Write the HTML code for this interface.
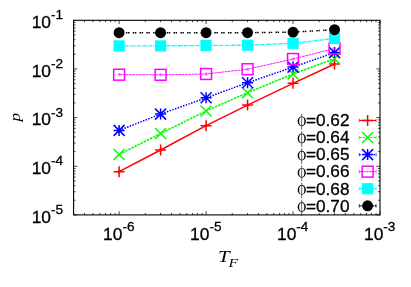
<!DOCTYPE html>
<html><head><meta charset="utf-8"><title>plot</title>
<style>html,body{margin:0;padding:0;background:#fff}body{width:411px;height:287px;overflow:hidden}svg text{font-family:"Liberation Sans",sans-serif;fill:#000;stroke:#000;stroke-width:0.3px}svg text.ser{font-family:"Liberation Serif",serif;font-style:italic;stroke:none}</style>
</head><body>
<svg width="411" height="287" viewBox="0 0 411 287" style="display:block;will-change:transform">
<rect width="411" height="287" fill="#fff"/>
<path d="M73.63 214.9v-1.9M73.63 20.3v1.9M84.49 214.9v-1.9M84.49 20.3v1.9M92.92 214.9v-1.9M92.92 20.3v1.9M99.81 214.9v-1.9M99.81 20.3v1.9M105.63 214.9v-1.9M105.63 20.3v1.9M110.67 214.9v-1.9M110.67 20.3v1.9M115.12 214.9v-1.9M115.12 20.3v1.9M119.10 214.9v-3.6M119.10 20.3v3.6M145.28 214.9v-1.9M145.28 20.3v1.9M160.59 214.9v-1.9M160.59 20.3v1.9M171.46 214.9v-1.9M171.46 20.3v1.9M179.89 214.9v-1.9M179.89 20.3v1.9M186.77 214.9v-1.9M186.77 20.3v1.9M192.60 214.9v-1.9M192.60 20.3v1.9M197.64 214.9v-1.9M197.64 20.3v1.9M202.09 214.9v-1.9M202.09 20.3v1.9M206.07 214.9v-3.6M206.07 20.3v3.6M232.25 214.9v-1.9M232.25 20.3v1.9M247.56 214.9v-1.9M247.56 20.3v1.9M258.43 214.9v-1.9M258.43 20.3v1.9M266.85 214.9v-1.9M266.85 20.3v1.9M273.74 214.9v-1.9M273.74 20.3v1.9M279.56 214.9v-1.9M279.56 20.3v1.9M284.61 214.9v-1.9M284.61 20.3v1.9M289.05 214.9v-1.9M289.05 20.3v1.9M293.03 214.9v-3.6M293.03 20.3v3.6M319.21 214.9v-1.9M319.21 20.3v1.9M334.53 214.9v-1.9M334.53 20.3v1.9M345.39 214.9v-1.9M345.39 20.3v1.9M353.82 214.9v-1.9M353.82 20.3v1.9M360.71 214.9v-1.9M360.71 20.3v1.9M366.53 214.9v-1.9M366.53 20.3v1.9M371.57 214.9v-1.9M371.57 20.3v1.9M376.02 214.9v-1.9M376.02 20.3v1.9M380.00 214.9v-3.6M380.00 20.3v3.6M73.6 214.90h3.6M380.0 214.90h-3.6M73.6 200.25h1.9M380.0 200.25h-1.9M73.6 191.69h1.9M380.0 191.69h-1.9M73.6 185.61h1.9M380.0 185.61h-1.9M73.6 180.90h1.9M380.0 180.90h-1.9M73.6 177.04h1.9M380.0 177.04h-1.9M73.6 173.79h1.9M380.0 173.79h-1.9M73.6 170.96h1.9M380.0 170.96h-1.9M73.6 168.48h1.9M380.0 168.48h-1.9M73.6 166.25h3.6M380.0 166.25h-3.6M73.6 151.60h1.9M380.0 151.60h-1.9M73.6 143.04h1.9M380.0 143.04h-1.9M73.6 136.96h1.9M380.0 136.96h-1.9M73.6 132.25h1.9M380.0 132.25h-1.9M73.6 128.39h1.9M380.0 128.39h-1.9M73.6 125.14h1.9M380.0 125.14h-1.9M73.6 122.31h1.9M380.0 122.31h-1.9M73.6 119.83h1.9M380.0 119.83h-1.9M73.6 117.60h3.6M380.0 117.60h-3.6M73.6 102.95h1.9M380.0 102.95h-1.9M73.6 94.39h1.9M380.0 94.39h-1.9M73.6 88.31h1.9M380.0 88.31h-1.9M73.6 83.60h1.9M380.0 83.60h-1.9M73.6 79.74h1.9M380.0 79.74h-1.9M73.6 76.49h1.9M380.0 76.49h-1.9M73.6 73.66h1.9M380.0 73.66h-1.9M73.6 71.18h1.9M380.0 71.18h-1.9M73.6 68.95h3.6M380.0 68.95h-3.6M73.6 54.30h1.9M380.0 54.30h-1.9M73.6 45.74h1.9M380.0 45.74h-1.9M73.6 39.66h1.9M380.0 39.66h-1.9M73.6 34.95h1.9M380.0 34.95h-1.9M73.6 31.09h1.9M380.0 31.09h-1.9M73.6 27.84h1.9M380.0 27.84h-1.9M73.6 25.01h1.9M380.0 25.01h-1.9M73.6 22.53h1.9M380.0 22.53h-1.9" stroke="#000" stroke-width="0.75" fill="none"/>
<path d="M119.10 171.70L160.59 150.00L206.07 125.70L247.56 105.10L293.03 83.30L334.53 64.00" stroke="#ff0000" stroke-width="1.45" fill="none"/>
<path d="M117.80 170.50h2.6M117.80 172.90h2.6M119.10 170.50v2.4M117.50 171.70h3.2" stroke="#ff0000" stroke-width="0.7" fill="none" opacity="0.75"/>
<path d="M113.60 171.70H124.60M119.10 166.20V177.20" stroke="#ff0000" stroke-width="1.5" fill="none"/>
<path d="M159.29 148.80h2.6M159.29 151.20h2.6M160.59 148.80v2.4M158.99 150.00h3.2" stroke="#ff0000" stroke-width="0.7" fill="none" opacity="0.75"/>
<path d="M155.09 150.00H166.09M160.59 144.50V155.50" stroke="#ff0000" stroke-width="1.5" fill="none"/>
<path d="M204.77 124.50h2.6M204.77 126.90h2.6M206.07 124.50v2.4M204.47 125.70h3.2" stroke="#ff0000" stroke-width="0.7" fill="none" opacity="0.75"/>
<path d="M200.57 125.70H211.57M206.07 120.20V131.20" stroke="#ff0000" stroke-width="1.5" fill="none"/>
<path d="M246.26 103.90h2.6M246.26 106.30h2.6M247.56 103.90v2.4M245.96 105.10h3.2" stroke="#ff0000" stroke-width="0.7" fill="none" opacity="0.75"/>
<path d="M242.06 105.10H253.06M247.56 99.60V110.60" stroke="#ff0000" stroke-width="1.5" fill="none"/>
<path d="M291.73 82.10h2.6M291.73 84.50h2.6M293.03 82.10v2.4M291.43 83.30h3.2" stroke="#ff0000" stroke-width="0.7" fill="none" opacity="0.75"/>
<path d="M287.53 83.30H298.53M293.03 77.80V88.80" stroke="#ff0000" stroke-width="1.5" fill="none"/>
<path d="M333.23 62.80h2.6M333.23 65.20h2.6M334.53 62.80v2.4M332.93 64.00h3.2" stroke="#ff0000" stroke-width="0.7" fill="none" opacity="0.75"/>
<path d="M329.03 64.00H340.03M334.53 58.50V69.50" stroke="#ff0000" stroke-width="1.5" fill="none"/>
<path d="M119.10 154.50L160.59 133.50L206.07 111.00L247.56 92.70L293.03 74.00L334.53 58.70" stroke="#00ff00" stroke-width="1.6" fill="none" stroke-dasharray="2.5 0.95"/>
<path d="M113.60 149.00L124.60 160.00M113.60 160.00L124.60 149.00" stroke="#00ff00" stroke-width="1.5" fill="none"/>
<path d="M155.09 128.00L166.09 139.00M155.09 139.00L166.09 128.00" stroke="#00ff00" stroke-width="1.5" fill="none"/>
<path d="M200.57 105.50L211.57 116.50M200.57 116.50L211.57 105.50" stroke="#00ff00" stroke-width="1.5" fill="none"/>
<path d="M242.06 87.20L253.06 98.20M242.06 98.20L253.06 87.20" stroke="#00ff00" stroke-width="1.5" fill="none"/>
<path d="M287.53 68.50L298.53 79.50M287.53 79.50L298.53 68.50" stroke="#00ff00" stroke-width="1.5" fill="none"/>
<path d="M329.03 53.20L340.03 64.20M329.03 64.20L340.03 53.20" stroke="#00ff00" stroke-width="1.5" fill="none"/>
<path d="M119.10 130.40L160.59 114.10L206.07 97.80L247.56 82.70L293.03 67.10L334.53 52.60" stroke="#0000ff" stroke-width="1.5" fill="none" stroke-dasharray="1.5 1.35"/>
<path d="M113.60 130.40H124.60M119.10 124.90V135.90M113.60 124.90L124.60 135.90M113.60 135.90L124.60 124.90" stroke="#0000ff" stroke-width="1.5" fill="none"/>
<path d="M155.09 114.10H166.09M160.59 108.60V119.60M155.09 108.60L166.09 119.60M155.09 119.60L166.09 108.60" stroke="#0000ff" stroke-width="1.5" fill="none"/>
<path d="M200.57 97.80H211.57M206.07 92.30V103.30M200.57 92.30L211.57 103.30M200.57 103.30L211.57 92.30" stroke="#0000ff" stroke-width="1.5" fill="none"/>
<path d="M242.06 82.70H253.06M247.56 77.20V88.20M242.06 77.20L253.06 88.20M242.06 88.20L253.06 77.20" stroke="#0000ff" stroke-width="1.5" fill="none"/>
<path d="M287.53 67.10H298.53M293.03 61.60V72.60M287.53 61.60L298.53 72.60M287.53 72.60L298.53 61.60" stroke="#0000ff" stroke-width="1.5" fill="none"/>
<path d="M329.03 52.60H340.03M334.53 47.10V58.10M329.03 47.10L340.03 58.10M329.03 58.10L340.03 47.10" stroke="#0000ff" stroke-width="1.5" fill="none"/>
<path d="M119.10 74.70L160.59 74.80L206.07 74.00L247.56 69.20L293.03 59.00L334.53 48.50" stroke="#ff00ff" stroke-width="0.9" fill="none" stroke-dasharray="2.7 0.6"/>
<path d="M117.80 73.50h2.6M117.80 75.90h2.6M119.10 73.50v2.4M117.50 74.70h3.2" stroke="#ff00ff" stroke-width="0.7" fill="none" opacity="0.55"/>
<rect x="113.65" y="69.25" width="10.9" height="10.9" stroke="#ff00ff" stroke-width="1.5" fill="none"/>
<path d="M159.29 73.60h2.6M159.29 76.00h2.6M160.59 73.60v2.4M158.99 74.80h3.2" stroke="#ff00ff" stroke-width="0.7" fill="none" opacity="0.55"/>
<rect x="155.14" y="69.35" width="10.9" height="10.9" stroke="#ff00ff" stroke-width="1.5" fill="none"/>
<path d="M204.77 72.80h2.6M204.77 75.20h2.6M206.07 72.80v2.4M204.47 74.00h3.2" stroke="#ff00ff" stroke-width="0.7" fill="none" opacity="0.55"/>
<rect x="200.62" y="68.55" width="10.9" height="10.9" stroke="#ff00ff" stroke-width="1.5" fill="none"/>
<path d="M246.26 68.00h2.6M246.26 70.40h2.6M247.56 68.00v2.4M245.96 69.20h3.2" stroke="#ff00ff" stroke-width="0.7" fill="none" opacity="0.55"/>
<rect x="242.11" y="63.75" width="10.9" height="10.9" stroke="#ff00ff" stroke-width="1.5" fill="none"/>
<path d="M291.73 57.80h2.6M291.73 60.20h2.6M293.03 57.80v2.4M291.43 59.00h3.2" stroke="#ff00ff" stroke-width="0.7" fill="none" opacity="0.55"/>
<rect x="287.58" y="53.55" width="10.9" height="10.9" stroke="#ff00ff" stroke-width="1.5" fill="none"/>
<path d="M333.23 47.30h2.6M333.23 49.70h2.6M334.53 47.30v2.4M332.93 48.50h3.2" stroke="#ff00ff" stroke-width="0.7" fill="none" opacity="0.55"/>
<rect x="329.08" y="43.05" width="10.9" height="10.9" stroke="#ff00ff" stroke-width="1.5" fill="none"/>
<path d="M119.10 45.90L160.59 45.90L206.07 45.50L247.56 45.20L293.03 43.30L334.53 38.50" stroke="#00ffff" stroke-width="1.4" fill="none" stroke-dasharray="3.4 0.6 1.0 0.9"/>
<rect x="113.50" y="40.30" width="11.2" height="11.2" fill="#00ffff"/>
<rect x="154.99" y="40.30" width="11.2" height="11.2" fill="#00ffff"/>
<rect x="200.47" y="39.90" width="11.2" height="11.2" fill="#00ffff"/>
<rect x="241.96" y="39.60" width="11.2" height="11.2" fill="#00ffff"/>
<rect x="287.43" y="37.70" width="11.2" height="11.2" fill="#00ffff"/>
<rect x="328.93" y="32.90" width="11.2" height="11.2" fill="#00ffff"/>
<path d="M119.10 32.70L160.59 32.70L206.07 32.70L247.56 32.70L293.03 32.10L334.53 29.70" stroke="#000000" stroke-width="1.45" fill="none" stroke-dasharray="1.5 0.6 1.5 3.2"/>
<circle cx="119.10" cy="32.70" r="5.45" fill="#000000"/>
<circle cx="160.59" cy="32.70" r="5.45" fill="#000000"/>
<circle cx="206.07" cy="32.70" r="5.45" fill="#000000"/>
<circle cx="247.56" cy="32.70" r="5.45" fill="#000000"/>
<circle cx="293.03" cy="32.10" r="5.45" fill="#000000"/>
<circle cx="334.53" cy="29.70" r="5.45" fill="#000000"/>
<path d="M359.3 120.45H376.1" stroke="#ff0000" stroke-width="1.2" fill="none"/>
<path d="M359.3 118.75v3.4M376.1 118.75v3.4" stroke="#ff0000" stroke-width="0.9" fill="none" opacity="0.8"/>
<path d="M362.10 120.45H373.10M367.60 114.95V125.95" stroke="#ff0000" stroke-width="1.5" fill="none"/>
<text x="349.5" y="125.90" text-anchor="end" font-size="17.2">=0.62</text>
<path d="M297.65 121.30a4.1 4.85 0 1 0 8.2 0a4.1 4.85 0 1 0 -8.2 0zM299.15 121.30a2.6 4.2 0 1 0 5.2 0a2.6 4.2 0 1 0 -5.2 0z" fill="#000" fill-rule="evenodd"/>
<path d="M301.7 114.00V129.75" stroke="#222" stroke-width="0.7"/>
<path d="M359.3 137.5H376.1" stroke="#00ff00" stroke-width="1.2" fill="none" stroke-dasharray="2.5 0.95"/>
<path d="M359.3 135.8v3.4M376.1 135.8v3.4" stroke="#00ff00" stroke-width="0.9" fill="none" opacity="0.8"/>
<path d="M362.10 132.00L373.10 143.00M362.10 143.00L373.10 132.00" stroke="#00ff00" stroke-width="1.5" fill="none"/>
<text x="349.5" y="143.06" text-anchor="end" font-size="17.2">=0.64</text>
<path d="M297.65 138.46a4.1 4.85 0 1 0 8.2 0a4.1 4.85 0 1 0 -8.2 0zM299.15 138.46a2.6 4.2 0 1 0 5.2 0a2.6 4.2 0 1 0 -5.2 0z" fill="#000" fill-rule="evenodd"/>
<path d="M301.7 131.16V146.91" stroke="#222" stroke-width="0.7"/>
<path d="M359.3 154.6H376.1" stroke="#0000ff" stroke-width="1.2" fill="none" stroke-dasharray="1.5 1.35"/>
<path d="M359.3 152.9v3.4M376.1 152.9v3.4" stroke="#0000ff" stroke-width="0.9" fill="none" opacity="0.8"/>
<path d="M362.10 154.60H373.10M367.60 149.10V160.10M362.10 149.10L373.10 160.10M362.10 160.10L373.10 149.10" stroke="#0000ff" stroke-width="1.5" fill="none"/>
<text x="349.5" y="160.22" text-anchor="end" font-size="17.2">=0.65</text>
<path d="M297.65 155.62a4.1 4.85 0 1 0 8.2 0a4.1 4.85 0 1 0 -8.2 0zM299.15 155.62a2.6 4.2 0 1 0 5.2 0a2.6 4.2 0 1 0 -5.2 0z" fill="#000" fill-rule="evenodd"/>
<path d="M301.7 148.32V164.07" stroke="#222" stroke-width="0.7"/>
<path d="M359.3 171.65H376.1" stroke="#ff00ff" stroke-width="0.9" fill="none" stroke-dasharray="2.7 0.6"/>
<path d="M359.3 169.95000000000002v3.4M376.1 169.95000000000002v3.4" stroke="#ff00ff" stroke-width="0.9" fill="none" opacity="0.8"/>
<rect x="362.15" y="166.20" width="10.9" height="10.9" stroke="#ff00ff" stroke-width="1.5" fill="none"/>
<text x="349.5" y="177.38" text-anchor="end" font-size="17.2">=0.66</text>
<path d="M297.65 172.78a4.1 4.85 0 1 0 8.2 0a4.1 4.85 0 1 0 -8.2 0zM299.15 172.78a2.6 4.2 0 1 0 5.2 0a2.6 4.2 0 1 0 -5.2 0z" fill="#000" fill-rule="evenodd"/>
<path d="M301.7 165.48V181.23" stroke="#222" stroke-width="0.7"/>
<path d="M359.3 188.7H376.1" stroke="#00ffff" stroke-width="1.2" fill="none" stroke-dasharray="3.4 0.6 1.0 0.9"/>
<path d="M359.3 187.0v3.4M376.1 187.0v3.4" stroke="#00ffff" stroke-width="0.9" fill="none" opacity="0.8"/>
<rect x="362.00" y="183.10" width="11.2" height="11.2" fill="#00ffff"/>
<text x="349.5" y="194.54" text-anchor="end" font-size="17.2">=0.68</text>
<path d="M297.65 189.94a4.1 4.85 0 1 0 8.2 0a4.1 4.85 0 1 0 -8.2 0zM299.15 189.94a2.6 4.2 0 1 0 5.2 0a2.6 4.2 0 1 0 -5.2 0z" fill="#000" fill-rule="evenodd"/>
<path d="M301.7 182.64V198.39" stroke="#222" stroke-width="0.7"/>
<path d="M359.3 205.8H376.1" stroke="#000000" stroke-width="1.2" fill="none" stroke-dasharray="1.5 0.6 1.5 3.2"/>
<path d="M359.3 204.10000000000002v3.4M376.1 204.10000000000002v3.4" stroke="#000000" stroke-width="0.9" fill="none" opacity="0.8"/>
<circle cx="367.60" cy="205.80" r="5.45" fill="#000000"/>
<text x="349.5" y="211.70" text-anchor="end" font-size="17.2">=0.70</text>
<path d="M297.65 207.10a4.1 4.85 0 1 0 8.2 0a4.1 4.85 0 1 0 -8.2 0zM299.15 207.10a2.6 4.2 0 1 0 5.2 0a2.6 4.2 0 1 0 -5.2 0z" fill="#000" fill-rule="evenodd"/>
<path d="M301.7 199.80V215.55" stroke="#222" stroke-width="0.7"/>
<rect x="73.6" y="20.3" width="306.4" height="194.6" fill="none" stroke="#000" stroke-width="1.1"/>
<text x="63.1" y="28.10" text-anchor="end" font-size="17.4">10<tspan font-size="13.6" dy="-8.9">-1</tspan></text>
<text x="63.1" y="76.75" text-anchor="end" font-size="17.4">10<tspan font-size="13.6" dy="-8.9">-2</tspan></text>
<text x="63.1" y="125.40" text-anchor="end" font-size="17.4">10<tspan font-size="13.6" dy="-8.9">-3</tspan></text>
<text x="63.1" y="174.05" text-anchor="end" font-size="17.4">10<tspan font-size="13.6" dy="-8.9">-4</tspan></text>
<text x="63.1" y="222.70" text-anchor="end" font-size="17.4">10<tspan font-size="13.6" dy="-8.9">-5</tspan></text>
<text x="118.80" y="239.5" text-anchor="middle" font-size="17.4">10<tspan font-size="13.6" dy="-8.9">-6</tspan></text>
<text x="205.77" y="239.5" text-anchor="middle" font-size="17.4">10<tspan font-size="13.6" dy="-8.9">-5</tspan></text>
<text x="292.73" y="239.5" text-anchor="middle" font-size="17.4">10<tspan font-size="13.6" dy="-8.9">-4</tspan></text>
<text x="379.70" y="239.5" text-anchor="middle" font-size="17.4">10<tspan font-size="13.6" dy="-8.9">-3</tspan></text>
<text transform="translate(20.1,117.2) rotate(-90) scale(1.13,1)" text-anchor="middle" class="ser" font-size="15.3">p</text>
<text transform="translate(218.0,261.5) scale(1.22,1)" class="ser" font-size="17.2">T</text>
<text transform="translate(228.6,267) scale(1.17,1)" class="ser" font-size="13.5">F</text>
</svg>
</body></html>
